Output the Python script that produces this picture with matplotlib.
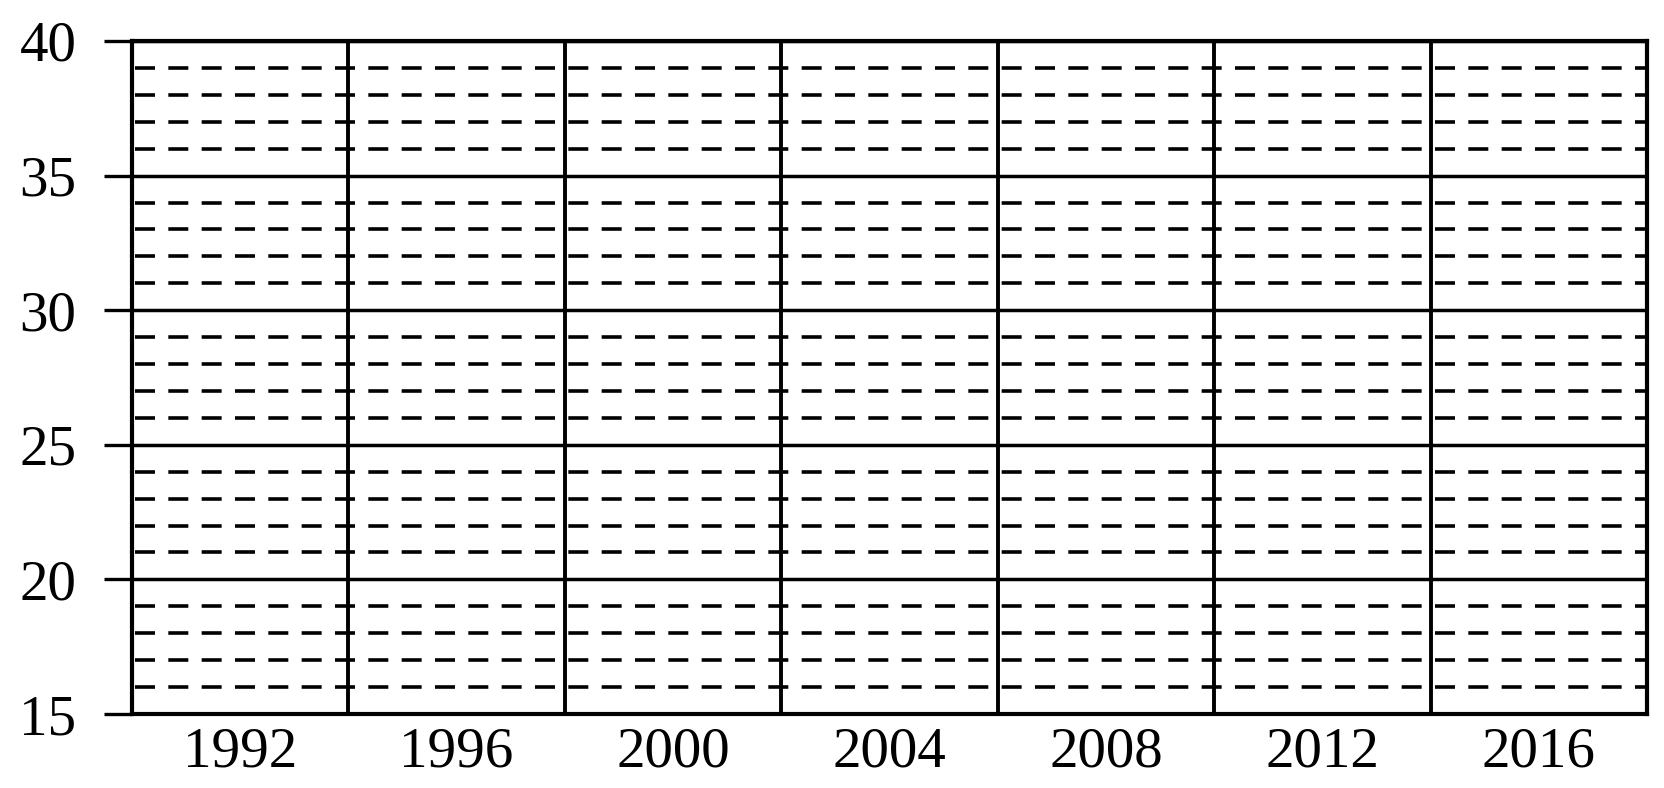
import matplotlib
matplotlib.use('Agg')
import matplotlib.pyplot as plt
from matplotlib.ticker import MultipleLocator, FixedLocator

# chart data (empty grid template)
years = [1992, 1996, 2000, 2004, 2008, 2012, 2016]
y_min, y_max = 15, 40
y_major_step = 5
y_minor_step = 1

plt.rcParams['font.family'] = ['Liberation Serif', 'DejaVu Serif']
plt.rcParams['lines.scale_dashes'] = False

fig = plt.figure(figsize=(16.64, 7.88), dpi=100)
ax = fig.add_axes([0.0793, 0.0939, 0.9105, 0.8541])

pos = list(range(len(years)))
ax.set_xlim(-0.5, len(years) - 0.5)
ax.set_ylim(y_min, y_max)

# x: labels at category centres, separators between categories
ax.xaxis.set_major_locator(FixedLocator(pos))
ax.set_xticklabels([str(y) for y in years])
ax.xaxis.set_minor_locator(FixedLocator([p + 0.5 for p in pos[:-1]]))
ax.tick_params(axis='x', which='both', length=0, labelsize=41, pad=9)

# y: major lines run out past the axis as ticks, minor lines dashed
ax.yaxis.set_major_locator(MultipleLocator(y_major_step))
ax.yaxis.set_minor_locator(MultipleLocator(y_minor_step))
ax.tick_params(axis='y', which='major', direction='out', length=20,
               width=2.4, labelsize=41, pad=20)
ax.tick_params(axis='y', which='minor', length=0)

ax.grid(which='major', axis='y', color='black', lw=2.5, ls='-')
ax.grid(which='minor', axis='y', color='black', lw=2.6,
        ls=(21.85, (14.4, 9.6)))
ax.grid(which='minor', axis='x', color='black', lw=2.8, ls='-')
ax.set_axisbelow(False)

for side in ['left', 'right', 'top', 'bottom']:
    ax.spines[side].set_linewidth(3.0)
    ax.spines[side].set_color('black')

fig.savefig('out.png', dpi=100)
plt.close()
